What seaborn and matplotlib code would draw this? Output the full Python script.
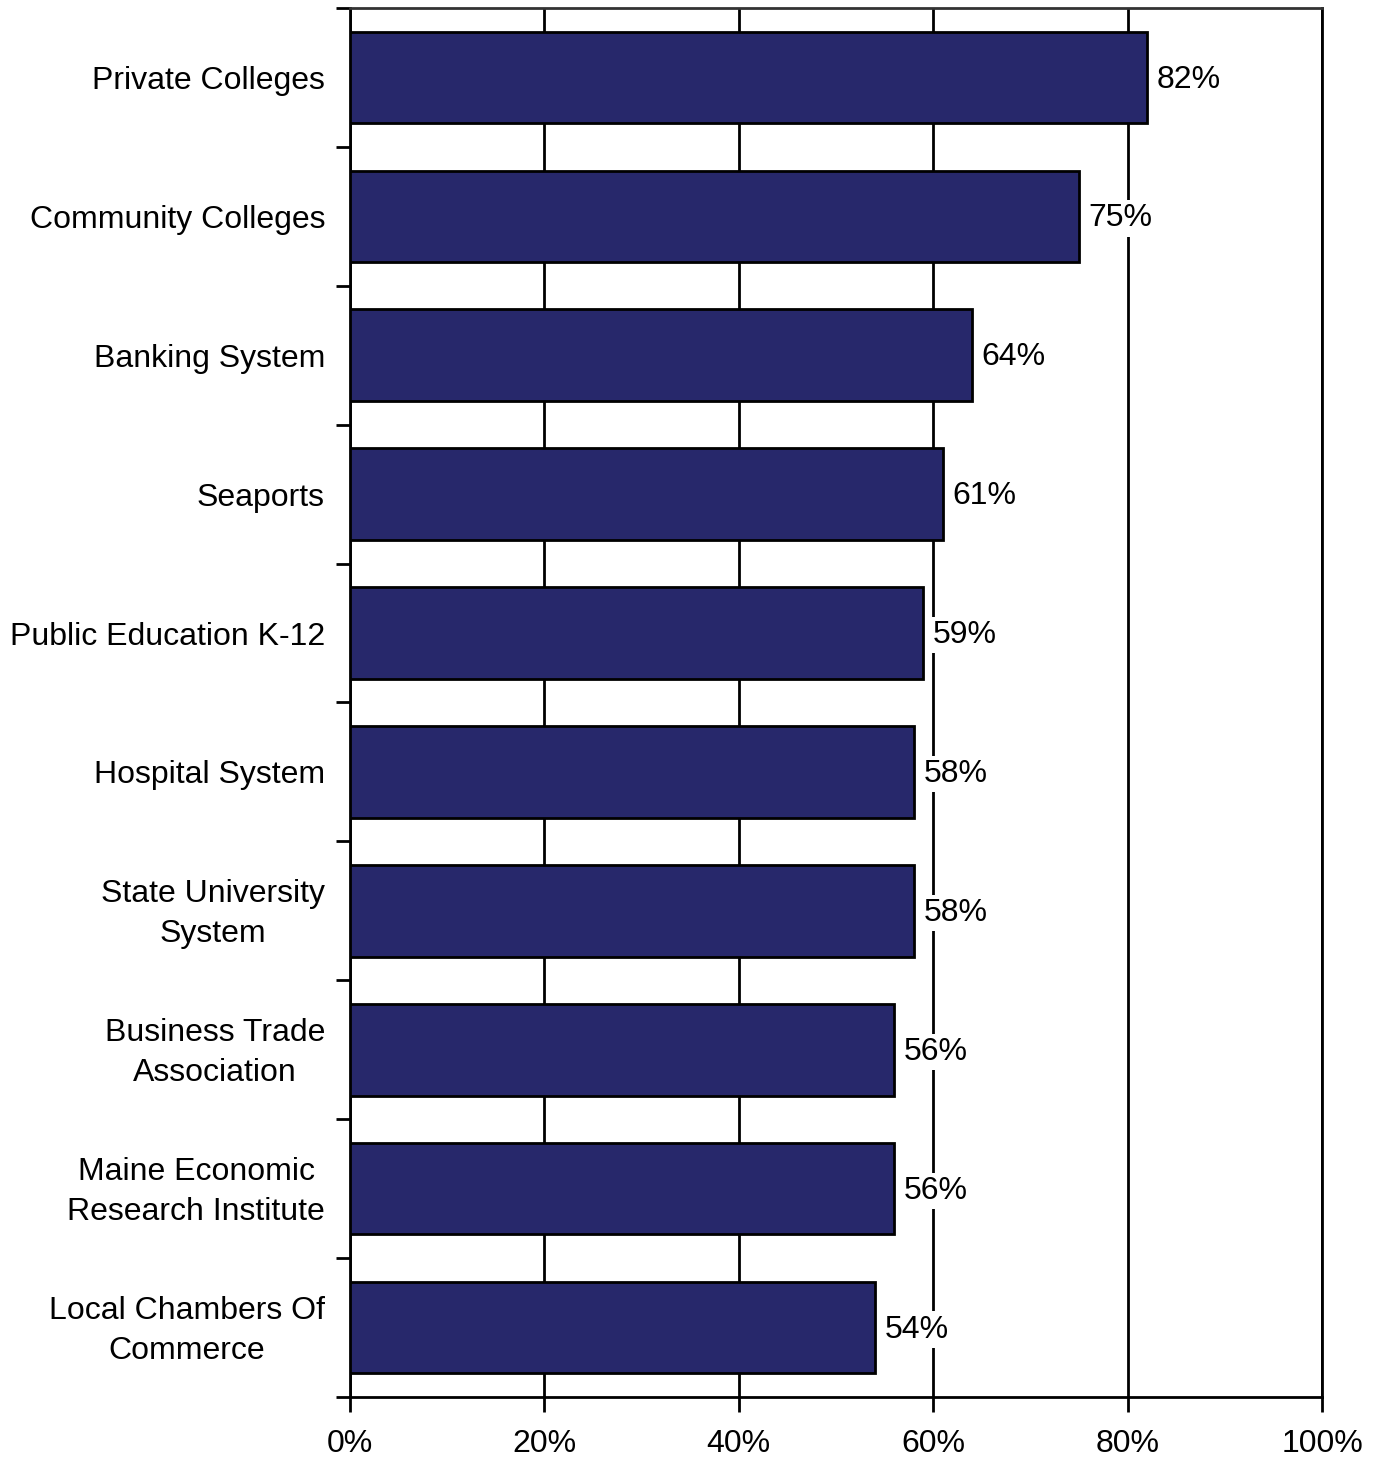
import matplotlib
matplotlib.use("Agg")
import matplotlib.pyplot as plt
import matplotlib.transforms as mtransforms
import seaborn as sns
import pandas as pd
import numpy as np
from matplotlib.ticker import FixedLocator, PercentFormatter

categories = [
    "Private Colleges",
    "Community Colleges",
    "Banking System",
    "Seaports",
    "Public Education K-12",
    "Hospital System",
    "State University\nSystem",
    "Business Trade\nAssociation",
    "Maine Economic\nResearch Institute",
    "Local Chambers Of\nCommerce",
]
values = [82, 75, 64, 61, 59, 58, 58, 56, 56, 54]
x_ticks = [0, 20, 40, 60, 80, 100]

df = pd.DataFrame({"category": categories, "value": values})

sns.set_theme(style="white")
plt.rcParams["font.family"] = ["Liberation Sans", "DejaVu Sans"]

FS = 23

fig = plt.figure(figsize=(13.8, 14.58), dpi=100)
ax = fig.add_axes([350 / 1380, 1 - 1397 / 1458, 972 / 1380, 1389 / 1458])

sns.barplot(data=df, x="value", y="category", orient="h", color="#27286b",
            saturation=1, edgecolor="black", linewidth=2, width=0.66, ax=ax, zorder=3)

ax.set_xlim(0, 100)
ax.set_ylim(len(categories) - 0.5, -0.5)
ax.set_xticks(x_ticks)
ax.xaxis.set_major_formatter(PercentFormatter(decimals=0))
ax.grid(axis="x", color="black", linewidth=2, zorder=0)
ax.grid(axis="y", visible=False)
ax.set_axisbelow(True)

ax.set_xlabel("")
ax.set_ylabel("")
ax.tick_params(axis="x", which="major", bottom=True, length=11, width=2,
               color="black", labelsize=FS, pad=12, labelcolor="black")
ax.tick_params(axis="y", which="major", left=False, length=0, labelsize=FS,
               pad=18, labelcolor="black")
ax.set_yticklabels(categories, ha="right", multialignment="center", linespacing=1.42)
# two-line labels sit slightly low; nudge them up a few pixels
nudge = mtransforms.ScaledTranslation(0, 5 / 100, fig.dpi_scale_trans)
for lbl in ax.get_yticklabels():
    if "\n" in lbl.get_text():
        lbl.set_transform(lbl.get_transform() + nudge)
ax.yaxis.set_minor_locator(FixedLocator(np.arange(-0.5, len(categories), 1.0)))
ax.tick_params(axis="y", which="minor", left=True, length=10, width=2, color="black")

for side in ["left", "bottom", "right", "top"]:
    ax.spines[side].set_visible(True)
    ax.spines[side].set_color("black")
    ax.spines[side].set_linewidth(2)
ax.spines["top"].set_color("#333333")

for patch, v in zip(ax.patches, values):
    y = patch.get_y() + patch.get_height() / 2
    ax.annotate(f"{v}%", xy=(v, y), xytext=(7, -1.5), textcoords="offset points",
                ha="left", va="center", fontsize=FS, color="black", zorder=5,
                bbox=dict(boxstyle="square,pad=0.1", fc="white", ec="none"))

fig.savefig("out.png", dpi=100, facecolor="white")
